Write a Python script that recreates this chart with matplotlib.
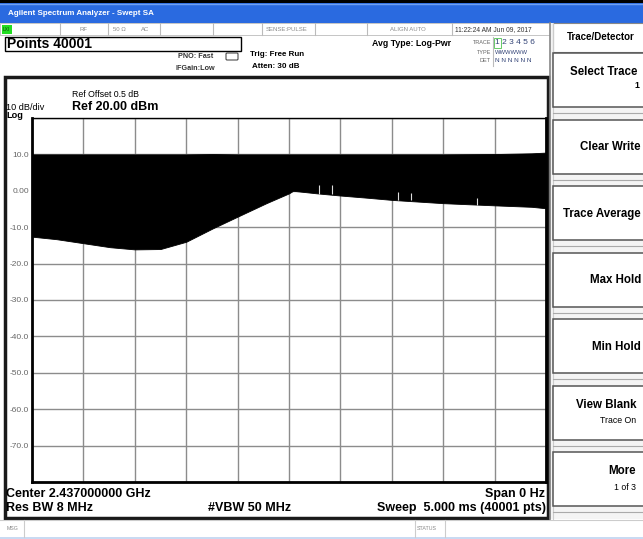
import numpy as np
import matplotlib
matplotlib.use('Agg')
import matplotlib.pyplot as plt
from matplotlib.patches import Rectangle, FancyBboxPatch

plt.rcParams['font.family'] = ['Liberation Sans', 'DejaVu Sans']

# zero-span trace envelope (time in ms, level in dBm)
time_ms = [0.0, 0.24, 0.5, 0.76, 1.0, 1.25, 1.5, 1.76, 2.0, 2.28, 2.5, 2.54,
           2.77, 3.0, 3.26, 3.5, 4.0, 4.5, 4.86, 5.0]
lower_dbm = [-12.6, -13.3, -14.4, -15.5, -16.1, -16.0, -14.0, -10.3, -7.1, -3.4,
             -0.7, 0.0, -0.7, -1.3, -1.9, -2.5, -3.4, -4.0, -4.4, -4.8]
upper_dbm = [10.0, 10.0, 10.0, 10.0, 10.0, 10.0, 10.0, 10.1, 10.0, 10.0,
             10.0, 10.0, 10.0, 10.0, 10.0, 10.0, 10.0, 10.1, 10.3, 10.5]

# small gaps in the burst
notch_t = [2.79, 2.92, 3.56, 3.69, 4.33]
notch_lo = [-0.9, -1.0, -2.5, -2.6, -3.9]
notch_hi = [1.6, 1.6, -0.4, -0.6, -2.1]

y_ticks = [10, 0, -10, -20, -30, -40, -50, -60, -70]
y_tick_labels = ['10.0', '0.00', '-10.0', '-20.0', '-30.0', '-40.0', '-50.0', '-60.0', '-70.0']

buttons = [
    ("Select Trace", "1", 52),
    ("Clear Write", None, 118.5),
    ("Trace Average", None, 185),
    ("Max Hold", None, 251.5),
    ("Min Hold", None, 318),
    ("View Blank", "Trace On", 384.5),
    ("More", "1 of 3", 451),
]

W, H = 643, 539
fig = plt.figure(figsize=(W / 100, H / 100), dpi=100, facecolor='white')

# --- screen chrome, drawn in pixel coordinates ---
bg = fig.add_axes([0, 0, 1, 1])
bg.set_xlim(0, W)
bg.set_ylim(H, 0)
bg.axis('off')

def rect(x0, y0, x1, y1, fc='none', ec='none', lw=1.0, z=1):
    bg.add_patch(Rectangle((x0, y0), x1 - x0, y1 - y0, facecolor=fc, edgecolor=ec, lw=lw, zorder=z))

def hline(y, x0, x1, c='#999999', lw=0.8):
    bg.plot([x0, x1], [y, y], color=c, lw=lw, zorder=2)

def vline(x, y0, y1, c='#999999', lw=0.8):
    bg.plot([x, x], [y0, y1], color=c, lw=lw, zorder=2)

# title bar
rect(0, 0, W, 3, fc='black')
rect(0, 3, W, 23, fc='#2a6ae0')
hline(3.5, 0, W, c='#6fa0f2', lw=1)
bg.text(8, 13.5, "Agilent Spectrum Analyzer - Swept SA", color='white', fontsize=5.8,
        fontweight='bold', va='center', ha='left')

# status row
rect(0, 23, 550, 35, fc='white', ec='#bbbbbb', lw=0.6)
rect(2, 24.5, 12, 33.5, fc='#22dd22')
bg.text(3, 29.5, "LXI", fontsize=3.5, va='center', color='#114411')
for xs in [60, 108, 160, 213, 262, 315, 367, 452]:
    vline(xs, 23, 35, c='#bbbbbb')
for txt, xx in [("RF", 80), ("50 Ω", 113), ("AC", 141), ("SENSE:PULSE", 266), ("ALIGN AUTO", 390)]:
    bg.text(xx, 29.5, txt, fontsize=4.3, color='#8a8a8a', va='center')
bg.text(455, 29.5, "11:22:24 AM Jun 09, 2017", fontsize=4.8, color='#333333', va='center')

# points box
rect(5, 37, 241, 51, fc='white', ec='black', lw=1)
bg.text(7, 44.5, "Points 40001", fontsize=10, fontweight='bold', va='center')

bg.text(178, 57, "PNO: Fast", fontsize=5.2, fontweight='bold', color='#333333', va='center')
bg.text(175, 68, "IFGain:Low", fontsize=5.2, fontweight='bold', color='#333333', va='center')
bg.add_patch(FancyBboxPatch((227, 54), 10, 5, boxstyle='round,pad=1', fc='white', ec='#333333', lw=0.7))
bg.text(250, 54, "Trig: Free Run", fontsize=5.8, fontweight='bold', va='center')
bg.text(252, 66, "Atten: 30 dB", fontsize=5.8, fontweight='bold', va='center')
bg.text(372, 43, "Avg Type: Log-Pwr", fontsize=6.3, fontweight='bold', va='center')

# trace / type / det block
for txt, yy in [("TRACE", 43), ("TYPE", 52), ("DET", 61)]:
    bg.text(491, yy, txt, fontsize=4.0, color='#666666', va='center', ha='right')
vline(493, 37, 66, c='#bbbbbb')
rect(494, 38, 501, 48, ec='#66cc66', lw=0.7)
bg.text(495, 43, "1 2 3 4 5 6", fontsize=6, color='#334477', va='center')
bg.text(495, 52, "WWWWWW", fontsize=4.2, color='#334477', va='center')
bg.text(495, 61, "N N N N N N", fontsize=4.6, color='#334477', va='center')

# right soft-key panel
rect(550, 23, W, 519, fc='#f4f4f4')
vline(550, 23, 519, c='#888888', lw=1.2)
vline(552.5, 23, 519, c='#cccccc', lw=0.8)
rect(553, 23, W + 2, 52, fc='white', ec='#888888', lw=0.8)
bg.text(567, 37.5, "Trace/Detector", fontsize=7, fontweight='bold', va='center')
for lab, sub, top in buttons:
    rect(553, top + 1, W + 2, top + 55, fc='white', ec='#555555', lw=1.1, z=2)
    hline(top + 61, 553, W, c='#aaaaaa', lw=0.8)
    if sub is None:
        bg.text(641, top + 28.5, lab, fontsize=8.3, fontweight='bold', va='center', ha='right', zorder=3)
    elif sub == "1":
        bg.text(637, top + 20, lab, fontsize=8.3, fontweight='bold', va='center', ha='right', zorder=3)
        bg.text(639, top + 34, sub, fontsize=6.3, fontweight='bold', va='center', ha='right', zorder=3)
    else:
        bg.text(636, top + 20, lab, fontsize=8.3, fontweight='bold', va='center', ha='right', zorder=3)
        bg.text(636, top + 36, sub, fontsize=6.3, va='center', ha='right', zorder=3)

# main display box
rect(5, 76.5, 548, 518, fc='white', ec='#1a1a1a', lw=2.5, z=1)
bg.text(72, 94.5, "Ref Offset 0.5 dB", fontsize=6.3, va='center')
bg.text(72, 106.5, "Ref 20.00 dBm", fontsize=9, fontweight='bold', va='center')
bg.text(6, 108, "10 dB/div", fontsize=6.6, va='center')
bg.text(6, 115.5, "Log", fontsize=6.6, fontweight='bold', va='center')
bg.text(6, 494, "Center 2.437000000 GHz", fontsize=9, fontweight='bold', va='center')
bg.text(6, 508, "Res BW 8 MHz", fontsize=9, fontweight='bold', va='center')
bg.text(208, 508, "#VBW 50 MHz", fontsize=9, fontweight='bold', va='center')
bg.text(545, 494, "Span 0 Hz", fontsize=9, fontweight='bold', va='center', ha='right')
bg.text(546, 508, "Sweep  5.000 ms (40001 pts)", fontsize=9, fontweight='bold', va='center', ha='right')

# message bar
rect(0, 520, W, 537, fc='white')
hline(520, 0, W, c='#cccccc', lw=0.8)
vline(24, 520, 537, c='#cccccc')
vline(415, 520, 537, c='#cccccc')
vline(445, 520, 537, c='#cccccc')
bg.text(7, 528.5, "MSG", fontsize=3.8, color='#888888', va='center')
bg.text(417, 528.5, "STATUS", fontsize=3.8, color='#888888', va='center')
rect(0, 537, W, H, fc='#c9daf2')

# --- trace graticule ---
ax = fig.add_axes([32 / W, 1 - 482 / H, (546 - 32) / W, (482 - 118) / H])
ax.set_xlim(0, 5)
ax.set_ylim(-80, 20)
ax.set_xticks(np.arange(0, 5.01, 0.5))
ax.set_xticklabels([])
ax.set_yticks(y_ticks)
ax.set_yticklabels(y_tick_labels)
ax.set_yticks([20, -80], minor=True)
ax.tick_params(axis='both', which='both', length=0)
ax.tick_params(axis='y', pad=2, labelsize=6, labelcolor='#666666')
ax.grid(True, which='both', color='#8c8c8c', lw=1)
ax.set_axisbelow(True)
for side in ['left', 'right', 'bottom']:
    ax.spines[side].set_linewidth(2.0)
ax.spines['top'].set_linewidth(1.0)

ax.fill_between(time_ms, lower_dbm, upper_dbm, color='black', lw=0.6, edgecolor='black', zorder=3)
ax.vlines(notch_t, notch_lo, notch_hi, color='#dddddd', lw=0.8, zorder=4)

fig.savefig('out.png', dpi=100, facecolor='white')
